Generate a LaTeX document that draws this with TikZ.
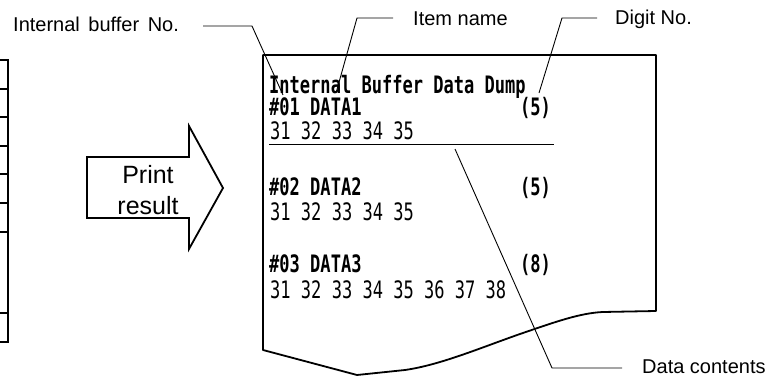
\documentclass[tikz,border=0pt]{standalone}
\usepackage{fontspec}
\setmainfont{Liberation Sans}
\newfontfamily\rcpt[FakeStretch=0.71]{DejaVu Sans Mono}
\begin{document}
\begin{tikzpicture}[x=1pt,y=-1pt,
  lbl/.style={font=\fontsize{20}{24}\selectfont, inner sep=0pt, anchor=base west},
  rb/.style={font=\rcpt\bfseries\fontsize{24}{28}\selectfont, inner sep=0pt, anchor=base west},
  rr/.style={font=\rcpt\fontsize{24}{28}\selectfont, inner sep=0pt, anchor=base west},
  rd/.style={rb, anchor=base east},
  big/.style={font=\fontsize{25}{30}\selectfont, inner sep=0pt, anchor=base},
  lead/.style={line width=0.9pt},
  thickline/.style={line width=1.8pt},
]
\useasboundingbox (0,0) rectangle (779,379);

% left table (cut off)
\draw[thickline] (-2,60) -- (8,60) -- (8,342) -- (-2,342);
\foreach \yy in {89,117,146,174,203,232,313}
  \draw[thickline] (-2,\yy) -- (8,\yy);

% arrow
\draw[thickline, line join=miter] (87,157) -- (189,157) -- (189,126) -- (223,188)
  -- (189,249) -- (189,218) -- (87,218) -- cycle;
\node[big] (pr1) at (148,184) {Print};
\node[big] (pr2) at (148,215) {result};

% receipt
\draw[thickline, line join=round] (603,312) -- (656,311) -- (656,55) -- (263,55)
  -- (263,350) -- (357,375) -- (405,370)
  .. controls (440,365) and (480,348) .. (520,334)
  .. controls (555,322) and (580,313) .. (603,312);

\node[rb] (t0) at (269,94) {Internal Buffer Data Dump};
\node[rb] (t1) at (269,116) {\#01 DATA1};
\node[rd] (d1) at (551,116) {(5)};
\node[rr] (n1) at (270,140) {31 32 33 34 35};
\draw[lead] (269,144) -- (554,144);
\node[rb] (t2) at (269,196) {\#02 DATA2};
\node[rd] (d2) at (551,196) {(5)};
\node[rr] (n2) at (270,221) {31 32 33 34 35};
\node[rb] (t3) at (269,273) {\#03 DATA3};
\node[rd] (d3) at (551,273) {(8)};
\node[rr] (n3) at (270,299) {31 32 33 34 35 36 37 38};

% labels
\node[lbl] (ibn) at (13,32) {Internal\hspace{3pt} buffer\hspace{3pt} No.};
\node[lbl] (itn) at (413,26) {Item name};
\node[lbl] (dgn) at (615,25) {Digit No.};
\node[lbl] (dcn) at (642,373) {Data contents};

% leader lines
\coordinate (ibA) at (203,26);
\coordinate (ibB) at (252,26);
\coordinate (ibT) at (283,95);
\draw[lead] (ibA) -- (ibB) -- (ibT);
\coordinate (itA) at (393,18);
\coordinate (itB) at (357,18);
\coordinate (itT) at (336,93);
\draw[lead] (itA) -- (itB) -- (itT);
\coordinate (dgA) at (597,18);
\coordinate (dgB) at (562,18);
\coordinate (dgT) at (539,93);
\draw[lead] (dgA) -- (dgB) -- (dgT);
\coordinate (dcA) at (622,368);
\coordinate (dcB) at (552,368);
\coordinate (dcT) at (455,149);
\draw[lead] (dcA) -- (dcB) -- (dcT);
\end{tikzpicture}
\end{document}
